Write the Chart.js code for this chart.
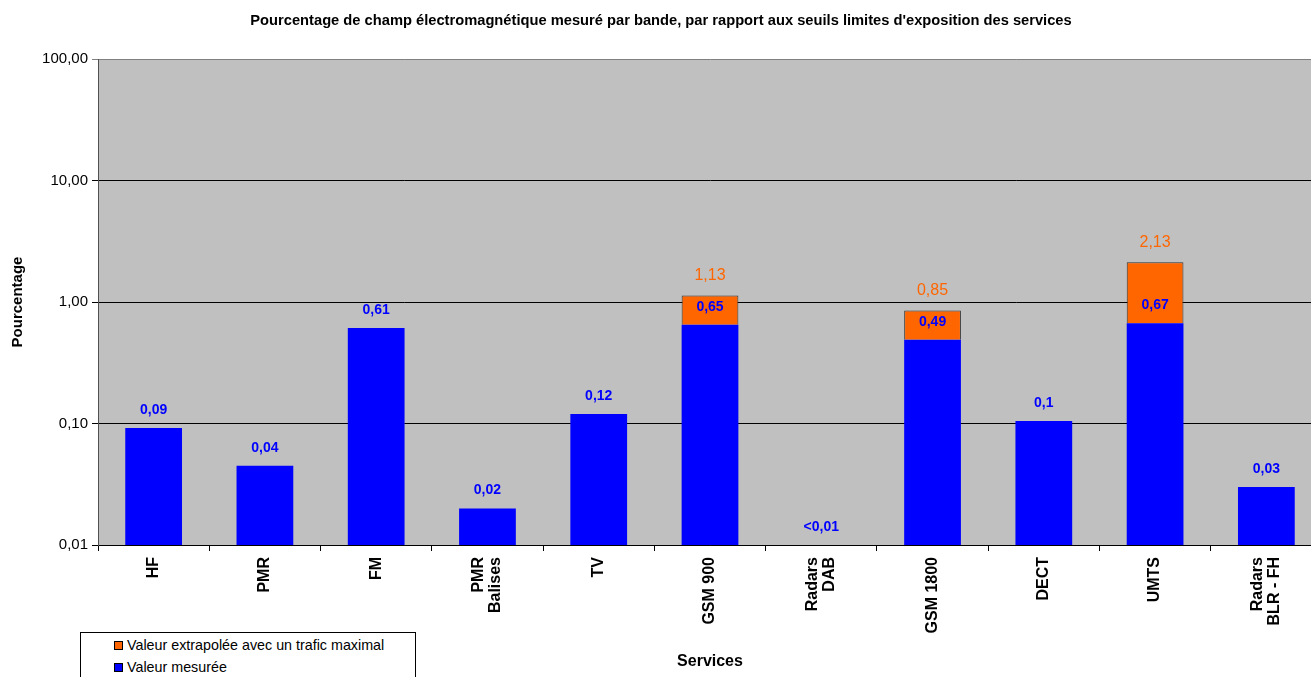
<!DOCTYPE html>
<html lang="fr">
<head>
<meta charset="utf-8">
<title>Pourcentage de champ électromagnétique</title>
<script src="https://cdn.jsdelivr.net/npm/chart.js@4.4.0/dist/chart.umd.min.js"></script>
<style>
  html, body { margin: 0; padding: 0; background: #fff; overflow: hidden; }
  #cadre { position: relative; width: 1311px; height: 677px; overflow: hidden; }
  #graphique { position: absolute; left: 0; top: 0; }
  #legende {
    position: absolute; left: 80px; top: 632px; width: 334px; height: 60px;
    border: 1px solid #000; background: #fff;
    font: 14.3px 'Liberation Sans', Arial, sans-serif; color: #000;
  }
  .item { position: absolute; left: 33px; height: 18px; line-height: 18px; white-space: nowrap; }
  .carre { display: inline-block; width: 7px; height: 7px; border: 1px solid #000; margin-right: 4px; vertical-align: 0px; }
</style>
</head>
<body>
<div id="cadre">
  <canvas id="graphique" width="1322" height="677"></canvas>
  <div id="legende">
    <div class="item" style="top:3px"><span class="carre" style="background:#FF6600"></span>Valeur extrapolée avec un trafic maximal</div>
    <div class="item" style="top:25px"><span class="carre" style="background:#0000FF"></span>Valeur mesurée</div>
  </div>
</div>
<script>
// Catégories (services) : une ligne par élément du tableau
const services = [
  ['HF'], ['PMR'], ['FM'], ['PMR', 'Balises'], ['TV'], ['GSM 900'],
  ['Radars', 'DAB'], ['GSM 1800'], ['DECT'], ['UMTS'], ['Radars', 'BLR - FH']
];

// Valeurs mesurées (en %), null = inférieur à 0,01
const valeurMesuree = [0.092, 0.045, 0.61, 0.02, 0.12, 0.65, null, 0.49, 0.105, 0.67, 0.03];

// Valeurs extrapolées avec un trafic maximal (total de la barre)
const valeurMaximale = [null, null, null, null, null, 1.13, null, 0.85, null, 2.13, null];

// Étiquettes affichées au-dessus des barres
const etiquettesMesure = ['0,09', '0,04', '0,61', '0,02', '0,12', '0,65', '<0,01', '0,49', '0,1', '0,67', '0,03'];
const etiquettesMaximale = ['', '', '', '', '', '1,13', '', '0,85', '', '2,13', ''];

// Graduations de l'axe logarithmique
const graduations = [0.01, 0.1, 1, 10, 100];
const etiquettesGraduations = ['0,01', '0,10', '1,00', '10,00', '100,00'];

const police = "'Liberation Sans', Arial, sans-serif";

// Partie orange = total extrapolé - valeur mesurée
const surplus = valeurMaximale.map((v, i) => v === null ? null : v - valeurMesuree[i]);

const pluginGraphique = {
  id: 'pluginGraphique',
  beforeDraw(chart) {
    // Fond gris de la zone de tracé
    const { ctx, chartArea: a } = chart;
    ctx.save();
    ctx.fillStyle = '#C0C0C0';
    ctx.fillRect(a.left, a.top, a.right - a.left, a.bottom - a.top);
    ctx.restore();
  },
  afterDatasetsDraw(chart) {
    const { ctx, scales: { x, y } } = chart;
    ctx.save();
    ctx.textAlign = 'center';
    ctx.textBaseline = 'middle';
    services.forEach((s, i) => {
      const px = x.getPixelForValue(i);
      // Valeur extrapolée (orange)
      if (valeurMaximale[i] !== null) {
        ctx.font = '16px ' + police;
        ctx.fillStyle = '#FF6600';
        ctx.fillText(etiquettesMaximale[i], px, y.getPixelForValue(valeurMaximale[i]) - 20);
      }
      // Valeur mesurée (bleu)
      const v = valeurMesuree[i];
      const py = v === null ? y.getPixelForValue(y.min) : y.getPixelForValue(v);
      ctx.font = 'bold 14px ' + police;
      ctx.fillStyle = '#0000FF';
      ctx.fillText(etiquettesMesure[i], px, py - 18);
    });
    ctx.restore();
  },
  afterDraw(chart) {
    // Libellés de l'axe des services, verticaux et centrés sur chaque catégorie
    const { ctx, scales: { x } } = chart;
    ctx.save();
    ctx.font = 'bold 16px ' + police;
    ctx.fillStyle = '#000';
    ctx.textAlign = 'right';
    ctx.textBaseline = 'middle';
    services.forEach((lignes, i) => {
      const px = x.getPixelForValue(i);
      lignes.forEach((texte, j) => {
        const dx = (j - (lignes.length - 1) / 2) * 17;
        ctx.save();
        ctx.translate(px + dx, x.top + 12);
        ctx.rotate(-Math.PI / 2);
        ctx.fillText(texte, 0, 0);
        ctx.restore();
      });
    });
    ctx.restore();
  }
};

const ctx = document.getElementById('graphique').getContext('2d');
const chart = new Chart(ctx, {
  type: 'bar',
  data: {
    labels: services,
    datasets: [
      {
        label: 'Valeur mesurée',
        data: valeurMesuree,
        backgroundColor: '#0000FF',
        borderWidth: 0,
        barPercentage: 0.51,
        categoryPercentage: 1
      },
      {
        label: 'Valeur extrapolée avec un trafic maximal',
        data: surplus,
        backgroundColor: '#FF6600',
        borderColor: '#333333',
        borderWidth: 1,
        barPercentage: 0.51,
        categoryPercentage: 1
      }
    ]
  },
  options: {
    responsive: false,
    animation: false,
    devicePixelRatio: 1,
    layout: { padding: 0 },
    plugins: {
      legend: { display: false },
      tooltip: { enabled: false },
      title: {
        display: true,
        text: 'Pourcentage de champ électromagnétique mesuré par bande, par rapport aux seuils limites d\'exposition des services',
        color: '#000',
        font: { family: police, size: 14.7, weight: 'bold', lineHeight: 1.2 },
        padding: { top: 12, bottom: 29.4 }
      }
    },
    scales: {
      x: {
        stacked: true,
        offset: true,
        afterFit: s => { s.height = 132; },
        border: { color: '#000', width: 1 },
        grid: { display: true, drawOnChartArea: false, drawTicks: true, tickLength: 6, color: '#000', offset: true },
        ticks: { display: false },
        title: {
          display: true,
          text: 'Services',
          color: '#000',
          font: { family: police, size: 16, weight: 'bold', lineHeight: 1.2 },
          padding: { top: 0, bottom: 6 }
        }
      },
      y: {
        type: 'logarithmic',
        stacked: true,
        min: 0.01,
        max: 100,
        afterFit: s => { s.width = 98; },
        afterBuildTicks: s => { s.ticks = graduations.map(v => ({ value: v })); },
        border: { color: '#505050', width: 1 },
        grid: {
          color: c => (c.tick && c.tick.value === 100 ? '#808080' : '#000'),
          tickLength: 6,
          lineWidth: 1
        },
        ticks: {
          color: '#000',
          padding: 4,
          font: { family: police, size: 15 },
          callback: v => etiquettesGraduations[graduations.indexOf(v)]
        },
        title: {
          display: true,
          text: 'Pourcentage',
          color: '#000',
          font: { family: police, size: 15, weight: 'bold', lineHeight: 1.2 },
          padding: { top: 9, bottom: 0 }
        }
      }
    }
  },
  plugins: [pluginGraphique]
});
</script>
</body>
</html>
